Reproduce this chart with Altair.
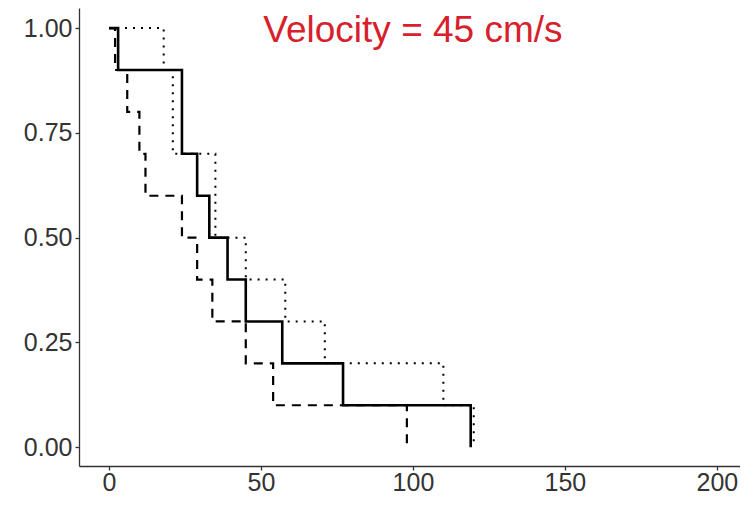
import altair as alt
import pandas as pd

# Survival step curves (time, survival probability)
solid_time = [0, 3, 24, 29, 33, 39, 45, 57, 77, 119]
solid_surv = [1.0, 0.9, 0.7, 0.6, 0.5, 0.4, 0.3, 0.2, 0.1, 0.0]

dashed_time = [0, 2, 6, 10, 12, 24, 29, 34, 45, 54, 98]
dashed_surv = [1.0, 0.9, 0.8, 0.7, 0.6, 0.5, 0.4, 0.3, 0.2, 0.1, 0.0]

dotted_time = [0, 18, 21, 35, 45, 58, 71, 110, 120]
dotted_surv = [1.0, 0.9, 0.7, 0.5, 0.4, 0.3, 0.2, 0.1, 0.0]

x_ticks = [0, 50, 100, 150, 200]
y_ticks = [0.0, 0.25, 0.5, 0.75, 1.0]

label_text = ["Velocity = 45 cm/s"]
label_x = [100]
label_y = [1.0]

FONT = "Liberation Sans"

xscale = alt.Scale(domain=[-9.87, 207.6], nice=False, zero=False)
yscale = alt.Scale(domain=[-0.045, 1.048], nice=False, zero=False)

xaxis = alt.Axis(values=x_ticks, grid=False, title=None, labelFontSize=25,
                 labelFont=FONT, labelColor="#333333", tickColor="#333333",
                 domainColor="#333333", domainWidth=1.3, tickWidth=1.3, tickSize=4,
                 labelPadding=0, labelFlush=False, labelOverlap=False)
yaxis = alt.Axis(values=y_ticks, format=".2f", grid=False, title=None, labelFontSize=25,
                 labelFont=FONT, labelColor="#333333", tickColor="#333333",
                 domainColor="#333333", domainWidth=1.3, tickWidth=1.3, tickSize=4,
                 labelPadding=3, labelFlush=False)


def step_layer(times, survs, dash, width):
    df = pd.DataFrame({"time": times, "surv": survs})
    return alt.Chart(df).mark_line(
        interpolate="step-after", color="black", strokeWidth=width,
        strokeDash=dash, strokeCap="butt"
    ).encode(
        x=alt.X("time:Q", scale=xscale, axis=xaxis),
        y=alt.Y("surv:Q", scale=yscale, axis=yaxis),
    )


dotted = step_layer(dotted_time, dotted_surv, [2, 6], 2)
dashed = step_layer(dashed_time, dashed_surv, [9, 7], 2.2)
solid = step_layer(solid_time, solid_surv, [1, 0], 2.6)

label_df = pd.DataFrame({"x": label_x, "y": label_y, "text": label_text})
label = alt.Chart(label_df).mark_text(
    font=FONT, fontSize=37, color="#D8202C", align="center", baseline="middle", dy=3
).encode(
    x=alt.X("x:Q", scale=xscale, axis=xaxis),
    y=alt.Y("y:Q", scale=yscale, axis=yaxis),
    text="text:N",
)

chart = alt.layer(dotted, dashed, solid, label).properties(
    width=661, height=458,
    autosize=alt.AutoSizeParams(type="none"),
    padding={"left": 71, "top": 0, "right": 0, "bottom": 30},
).configure(background="white").configure_view(stroke=None)

chart.save("out.html", embed_options={"renderer": "svg", "actions": False})
